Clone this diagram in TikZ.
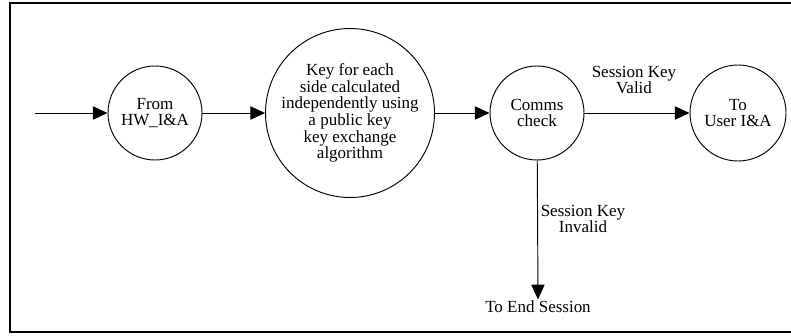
\documentclass[tikz,border=0pt]{standalone}
\usepackage{fontspec}
\setmainfont{Liberation Serif}
\usetikzlibrary{arrows.meta}

\begin{document}
\begin{tikzpicture}
[x=0.03cm, y=-0.03cm, line width=0.8pt,
font=\fontsize{14.5pt}{14.2pt}\selectfont,
state/.style={circle, draw, inner sep=0pt, align=center},
flow/.style={-{Triangle[length=4.4mm, width=4mm]}},
lbl/.style={align=center, inner sep=1pt}]

\useasboundingbox (0,0) rectangle (791,335);
\draw[line width=1pt] (791,3) -- (10,3) -- (10,332) -- (791,332);

\coordinate (start) at (35,113);
\node[state, minimum size=94*0.03cm] (hwia) at (155,113) {From\\HW\_I\&A};
\node[state, minimum size=164*0.03cm] (keycalc) at (350,113)
    {Key for each\\side calculated\\independently using\\a public key\\key exchange\\algorithm};
\node[state, minimum size=94*0.03cm] (comms) at (537,113) {Comms\\check};
\node[state, minimum size=96*0.03cm] (useria) at (738,113) {To\\User I\&A};
\node[lbl] (endsess) at (538,307) {To End Session};

\draw[flow] (start) -- (hwia);
\draw[flow] (hwia) -- (keycalc);
\draw[flow] (keycalc) -- (comms);
\draw[flow] (comms) -- (useria);
\draw[flow] (comms) -- (endsess.north);

\node[lbl] (validlbl) at (634,80) {Session Key\\Valid};
\node[lbl] (invalidlbl) at (583,219) {Session Key\\Invalid};

\end{tikzpicture}
\end{document}
